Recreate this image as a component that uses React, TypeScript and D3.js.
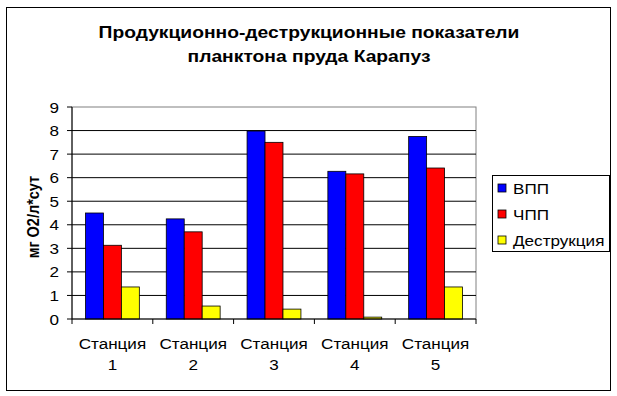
import React from 'react';
import * as d3 from 'd3';

const stations = ["Станция 1", "Станция 2", "Станция 3", "Станция 4", "Станция 5"];
const seriesNames = ["ВПП", "ЧПП", "Деструкция"];
const vpp = [4.5, 4.25, 7.98, 6.27, 7.75];
const chpp = [3.13, 3.7, 7.5, 6.16, 6.41];
const destr = [1.36, 0.55, 0.42, 0.08, 1.36];
const yTickValues = [0, 1, 2, 3, 4, 5, 6, 7, 8, 9];
const colors = ["#0000ff", "#ff0000", "#ffff00"];

const width = 617;
const height = 396;
const plotLeft = 72;
const plotRight = 476;
const plotTop = 107;
const plotBottom = 319;
const font = "'Liberation Sans', Arial, sans-serif";
const stretch = 1.14; // the original picture is a bit wider than tall

// text drawn with the same horizontal stretch as the source image
const Txt = ({x, y, size, anchor = "start", bold = false, rotate = 0, children}:
  {x: number, y: number, size: number, anchor?: string, bold?: boolean, rotate?: number, children: React.ReactNode}) => (
  <text transform={`translate(${x}, ${y}) scale(${stretch}, 1) rotate(${rotate})`} textAnchor={anchor}
    fontSize={size} fontWeight={bold ? "bold" : "normal"}>{children}</text>
);

const App: React.FC = () => {
  const series = [vpp, chpp, destr];
  const xScale = d3.scaleBand<string>().domain(stations).range([plotLeft, plotRight]);
  const barW = xScale.bandwidth() / 4.5;
  const yScale = d3.scaleLinear().domain([0, 9]).range([plotBottom, plotTop]);

  return (
    <svg width={width} height={height} style={{position: "absolute", left: 0, top: 0, background: "white"}} fontFamily={font}>
      <rect x={6.5} y={7.5} width={604} height={383} fill="white" stroke="black" strokeWidth={1}/>
      <Txt x={309} y={38} size={16.9} anchor="middle" bold>Продукционно-деструкционные показатели</Txt>
      <Txt x={309} y={62} size={16.9} anchor="middle" bold>планктона пруда Карапуз</Txt>

      {/* plot frame */}
      <rect x={plotLeft} y={plotTop} width={plotRight - plotLeft} height={plotBottom - plotTop} fill="white" stroke="#808080"/>
      {yTickValues.filter(v => v > 0 && v < 9).map(v => (
        <line key={v} x1={plotLeft} x2={plotRight} y1={yScale(v)} y2={yScale(v)} stroke="black"/>
      ))}

      {stations.map((s, i) => (
        <g key={s}>
          {series.map((vals, j) => {
            const x = (xScale(s) as number) + barW * 0.75 + j * barW;
            return (
              <rect key={j} x={x} y={yScale(vals[i])} width={barW} height={plotBottom - yScale(vals[i])}
                fill={colors[j]} stroke="black" strokeWidth={0.8}/>
            );
          })}
        </g>
      ))}

      {/* axes */}
      <line x1={plotLeft} x2={plotLeft} y1={plotTop} y2={plotBottom} stroke="black"/>
      <line x1={plotLeft} x2={plotRight} y1={plotBottom} y2={plotBottom} stroke="black"/>
      {yTickValues.map(v => (
        <g key={v}>
          <line x1={plotLeft - 5} x2={plotLeft} y1={yScale(v)} y2={yScale(v)} stroke="black"/>
          <Txt x={59} y={yScale(v) + 5.5} size={15} anchor="end">{v}</Txt>
        </g>
      ))}
      {[...stations.map(s => xScale(s) as number), plotRight].map((x, i) => (
        <line key={i} x1={x} x2={x} y1={plotBottom} y2={plotBottom + 5} stroke="black"/>
      ))}
      {stations.map(s => {
        const cx = (xScale(s) as number) + xScale.bandwidth() / 2;
        const [w1, w2] = s.split(" ");
        return (
          <g key={s}>
            <Txt x={cx} y={349} size={15} anchor="middle">{w1}</Txt>
            <Txt x={cx} y={370} size={15} anchor="middle">{w2}</Txt>
          </g>
        );
      })}
      <Txt x={39} y={(plotTop + plotBottom) / 2 + 4} size={14.5} anchor="middle" bold rotate={-90}>мг O2/л*сут</Txt>

      {/* legend */}
      <rect x={492.5} y={175.5} width={117} height={76} fill="white" stroke="black"/>
      {seriesNames.map((name, i) => (
        <g key={name}>
          <rect x={498} y={184 + i * 26} width={8} height={8} fill={colors[i]} stroke="black" strokeWidth={0.8}/>
          <Txt x={513} y={193.5 + i * 26} size={15}>{name}</Txt>
        </g>
      ))}
    </svg>
  );
};

export default App;
